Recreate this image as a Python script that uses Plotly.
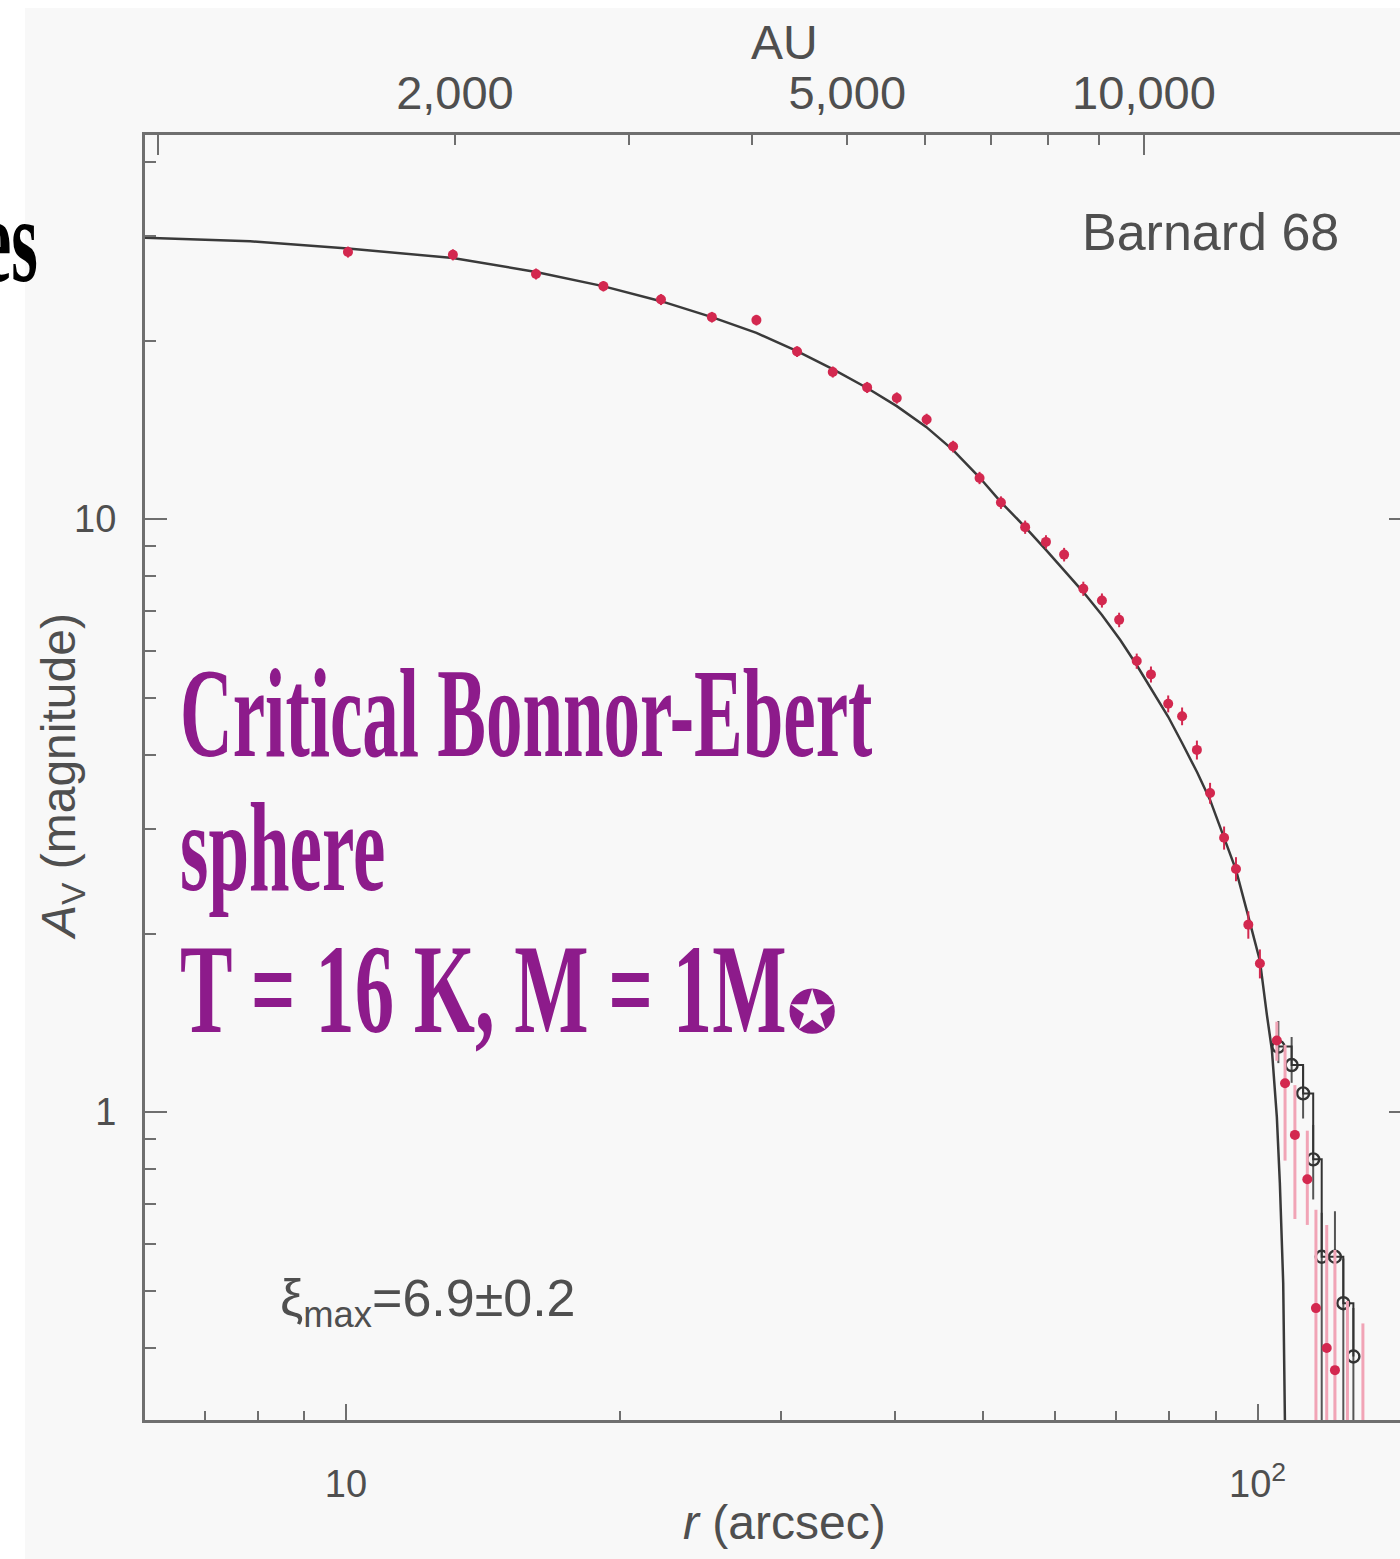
import json
import plotly.graph_objects as go

# ---------------------------------------------------------------------------
# Barnard 68: radial visual-extinction profile with a Bonnor-Ebert fit
# ---------------------------------------------------------------------------

# Binned extinction measurements (filled red points), r in arcsec, A_V in mag
r_obs = [10.05, 13.1, 16.16, 19.16, 22.16, 25.2, 28.2, 31.25, 34.2, 37.3,
         40.2, 43.35, 46.35, 49.55, 52.3, 55.6, 58.6, 61.35, 64.4, 67.5,
         70.5, 73.7, 76.4, 79.8, 82.65, 85.8, 88.7, 91.9, 94.7, 97.7, 100.6]
av_obs = [28.2, 27.9, 25.9, 24.7, 23.45, 21.9, 21.65, 19.16, 17.7, 16.67,
          16.0, 14.72, 13.25, 11.73, 10.66, 9.69, 9.15, 8.71, 7.63, 7.29,
          6.76, 5.76, 5.47, 4.88, 4.65, 4.08, 3.45, 2.90, 2.57, 2.07, 1.78]
av_obs_err = [0.6, 0.6, 0.55, 0.5, 0.5, 0.45, 0.45, 0.4, 0.38, 0.36,
              0.35, 0.33, 0.3, 0.28, 0.26, 0.25, 0.24, 0.23, 0.21, 0.2,
              0.19, 0.17, 0.17, 0.16, 0.16, 0.15, 0.14, 0.13, 0.12, 0.11, 0.10]

# Outer-edge measurements with large uncertainties
r_edge = [105.0, 107.2, 109.9, 113.4, 115.9, 119.1, 121.6, 125.5, 130.5]
av_edge = [1.32, 1.118, 0.915, 0.770, 0.467, 0.400, 0.367, 0.28, 0.27]
av_edge_up = [0.10, 0.18, 0.195, 0.16, 0.217, 0.245, 0.218, 0.20, 0.17]
av_edge_dn = [0.10, 0.29, 0.255, 0.125, 0.30, 0.25, 0.20, 0.10, 0.10]

# Alternative edge estimate (open circles, stepped)
r_alt = [105.4, 109.0, 112.2, 115.1, 117.6, 121.6, 124.2, 127.4]
av_alt = [1.289, 1.20, 1.075, 0.832, 0.570, 0.570, 0.476, 0.387]
av_alt_up = [0.135, 0.138, 0.12, 0.119, 0.106, 0.11, 0.09, 0.08]
av_alt_dn = [0.08, 0.08, 0.10, 0.12, 0.45, 0.45, 0.35, 0.30]

# Critical Bonnor-Ebert sphere model curve
r_model = [6.0, 7.85, 10.05, 13.1, 16.16, 19.14, 22.16, 25.2, 28.2, 31.25,
           34.2, 37.3, 40.2, 43.3, 46.35, 49.5, 52.3, 55.6, 58.6, 61.5,
           64.4, 67.5, 70.7, 73.6, 76.4, 79.8, 82.65, 85.85, 88.7, 91.7,
           94.7, 97.6, 100.6, 102.4, 103.7, 105.0, 105.8, 106.7, 107.2]
av_model = [29.8, 29.4, 28.6, 27.55, 26.1, 24.7, 23.3, 21.9, 20.6, 19.2,
            17.9, 16.63, 15.5, 14.3, 13.07, 11.77, 10.68, 9.69, 8.87, 8.17,
            7.53, 6.89, 6.25, 5.69, 5.19, 4.64, 4.19, 3.74, 3.36, 2.93,
            2.56, 2.15, 1.80, 1.457, 1.272, 0.981, 0.759, 0.515, 0.29]

# Axis ticks
x_major = [10, 100]
x_major_text = ["10", "10<sup>2</sup>"]
x_minor = [7, 8, 9, 20, 30, 40, 50, 60, 70, 80, 90]
au_labeled = [2000, 5000, 10000]
au_labels = ["2,000", "5,000", "10,000"]
au_minor = [1000, 3000, 4000, 6000, 7000, 8000, 9000]
au_major = [1000, 10000]
y_major = [1, 10]
y_major_text = ["1", "10"]
y_minor = [0.4, 0.5, 0.6, 0.7, 0.8, 0.9, 2, 3, 4, 5, 6, 7, 8, 9, 20, 30, 40]

# ---------------------------------------------------------------------------
W, H = 1400, 1559
L, R, T, B = 145, 0, 135, 139
PW, PH = W - L - R, H - T - B


def px_x(p):
    return (p - L) / PW


def px_y(p):
    return (H - B - p) / PH


AXIS = "#6f6f6f"
TXT = "#4f4f4f"
PANEL = "#f8f8f8"
RED = "#d3284f"
PINK = "#f1a4b6"
PURPLE = "#8d1b8b"
SANS = "Liberation Sans, Arial, sans-serif"
SERIF = "Liberation Serif, Times New Roman, serif"

fig = go.Figure()

fig.add_trace(go.Scatter(
    x=r_model, y=av_model, mode="lines",
    line=dict(color="#3a3a3a", width=2.5), hoverinfo="skip", showlegend=False))

fig.add_trace(go.Scatter(
    x=r_alt, y=av_alt, mode="lines+markers", line_shape="hv",
    line=dict(color="#333333", width=2),
    marker=dict(symbol="circle-open", size=12, color="#333333",
                line=dict(width=2.4)),
    error_y=dict(type="data", array=av_alt_up, arrayminus=av_alt_dn,
                 color="#555555", thickness=2, width=0),
    showlegend=False))

fig.add_trace(go.Scatter(
    x=r_edge, y=av_edge, mode="markers",
    marker=dict(size=10, color=RED),
    error_y=dict(type="data", array=av_edge_up, arrayminus=av_edge_dn,
                 color=PINK, thickness=3, width=0),
    showlegend=False))

fig.add_trace(go.Scatter(
    x=r_obs, y=av_obs, mode="markers",
    marker=dict(size=10, color=RED),
    error_y=dict(type="data", array=av_obs_err, color=RED,
                 thickness=2, width=0),
    showlegend=False))

# empty traces so that the overlaid tick-only axes are rendered
for xa, ya in [("x2", "y"), ("x3", "y"), ("x4", "y"), ("x5", "y"),
               ("x", "y2"), ("x", "y3")]:
    fig.add_trace(go.Scatter(x=[], y=[], xaxis=xa, yaxis=ya, mode="markers",
                             hoverinfo="skip", showlegend=False))

xrange_log = [0.7795, 2.1563]
yrange_log = [-0.5194, 1.6476]
au_range_log = [2.9866, 4.2597]

tickfont = dict(family=SANS, size=38, color=TXT)
plain = dict(showgrid=False, zeroline=False, tickmode="array",
             tickwidth=2, tickcolor=AXIS, ticks="inside")


def tick_only(**kw):
    d = dict(plain)
    d.update(showline=False, showticklabels=False)
    d.update(kw)
    return d


fig.update_layout(
    width=W, height=H,
    margin=dict(l=L, r=R, t=T, b=B, pad=0),
    paper_bgcolor="white", plot_bgcolor=PANEL,
    showlegend=False,
    xaxis=dict(plain, type="log", range=xrange_log, tickvals=x_major,
               ticktext=x_major_text, ticklen=16, showline=True,
               linecolor=AXIS, linewidth=3, tickfont=tickfont,
               ticklabelstandoff=28),
    xaxis3=tick_only(type="log", range=xrange_log, overlaying="x",
                     anchor="y", side="bottom", tickvals=x_minor, ticklen=9),
    xaxis2=dict(plain, type="log", range=au_range_log, overlaying="x",
                anchor="y", side="top", tickvals=au_labeled,
                ticktext=au_labels, ticklen=10, showline=True,
                linecolor=AXIS, linewidth=3,
                tickfont=dict(family=SANS, size=47, color=TXT),
                ticklabelstandoff=4),
    xaxis4=tick_only(type="log", range=au_range_log, overlaying="x",
                     anchor="y", side="top", tickvals=au_minor, ticklen=10),
    xaxis5=tick_only(type="log", range=au_range_log, overlaying="x",
                     anchor="y", side="top", tickvals=au_major, ticklen=20),
    yaxis=dict(plain, type="log", range=yrange_log, tickvals=y_major,
               ticktext=y_major_text, ticklen=22, showline=True,
               linecolor=AXIS, linewidth=3, tickfont=tickfont,
               ticklabelstandoff=18),
    yaxis2=tick_only(type="log", range=yrange_log, overlaying="y",
                     anchor="x", side="left", tickvals=y_minor, ticklen=11),
    yaxis3=tick_only(type="log", range=yrange_log, overlaying="y",
                     anchor="x", side="right", tickvals=y_major, ticklen=11),
)

# light panel behind the whole figure (white margin strip on top/left)
fig.add_shape(type="rect", xref="paper", yref="paper", layer="below",
              x0=px_x(25), x1=px_x(W + 5), y0=px_y(H + 5), y1=px_y(8),
              fillcolor=PANEL, line=dict(width=0))

annotations = [
    dict(text="AU", x=px_x(784), y=px_y(42),
         font=dict(family=SANS, size=48, color=TXT)),
    dict(text="Barnard 68", x=px_x(1210), y=px_y(232),
         font=dict(family=SANS, size=52, color=TXT)),
    dict(text="\u03be<sub>max</sub>=6.9\u00b10.2", x=px_x(278), y=px_y(1302),
         xanchor="left", font=dict(family=SANS, size=52, color=TXT)),
    dict(text="<i>r</i> (arcsec)", x=px_x(784), y=px_y(1522),
         font=dict(family=SANS, size=48, color=TXT)),
    dict(text="<i>A</i><sub>V</sub> (magnitude)", x=px_x(62), y=px_y(777),
         textangle=-90, font=dict(family=SANS, size=48, color=TXT)),
    dict(text="Critical Bonnor-Ebert", x=px_x(178), y=px_y(713),
         xanchor="left",
         font=dict(family=SERIF, size=128, color=PURPLE, weight="bold")),
    dict(text="sphere", x=px_x(178), y=px_y(847), xanchor="left",
         font=dict(family=SERIF, size=128, color=PURPLE, weight="bold")),
    dict(text="T = 16 K, M = 1M", x=px_x(178), y=px_y(989), xanchor="left",
         font=dict(family=SERIF, size=128, color=PURPLE, weight="bold")),
    dict(text="\u272a", x=px_x(812), y=px_y(1012),
         font=dict(family="DejaVu Sans", size=60, color=PURPLE)),
    dict(text="es", x=px_x(40), y=px_y(240), xanchor="right",
         font=dict(family=SERIF, size=120, color="black", weight="bold")),
]
for a in annotations:
    a.setdefault("xanchor", "center")
    a.setdefault("yanchor", "middle")
    fig.add_annotation(xref="paper", yref="paper", showarrow=False, **a)

# condensed display face for the headline text
condensed = {
    "Critical Bonnor-Ebert": ["left", 0.57],
    "sphere": ["left", 0.57],
    "T = 16 K, M = 1M": ["left", 0.615],
    "es": ["right", 0.57],
}
post = """
var gd = document.getElementById('{plot_id}');
var spec = %s;
gd.querySelectorAll('text.annotation-text').forEach(function(t){
  var s = spec[t.textContent];
  if(!s) return;
  t.style.transformBox = 'fill-box';
  t.style.transformOrigin = s[0] + ' center';
  t.style.transform = 'scaleX(' + s[1] + ')';
});
""" % json.dumps(condensed)

fig.write_html("out.html", post_script=post)
